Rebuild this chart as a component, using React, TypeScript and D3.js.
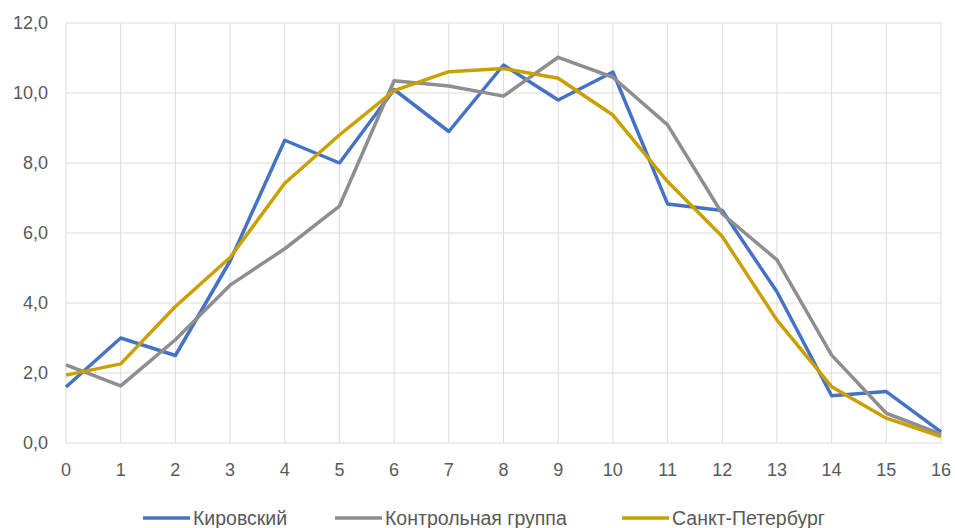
import React from "react";
import * as d3 from "d3";

const categories = [0, 1, 2, 3, 4, 5, 6, 7, 8, 9, 10, 11, 12, 13, 14, 15, 16];
const kirovsky = [1.6, 3.0, 2.5, 5.2, 8.65, 8.0, 10.1, 8.9, 10.8, 9.8, 10.6, 6.83, 6.64, 4.32, 1.35, 1.47, 0.32];
const control = [2.23, 1.63, 2.95, 4.51, 5.55, 6.77, 10.35, 10.2, 9.91, 11.02, 10.45, 9.09, 6.55, 5.23, 2.51, 0.85, 0.25];
const spb = [1.94, 2.26, 3.9, 5.3, 7.42, 8.8, 10.07, 10.61, 10.7, 10.42, 9.37, 7.47, 5.9, 3.51, 1.61, 0.71, 0.18];
const yTicks = [0, 2, 4, 6, 8, 10, 12];
const seriesNames = ["Кировский", "Контрольная группа", "Санкт-Петербург"];

const W = 955;
const H = 528;
const FONT = "'Liberation Sans', Arial, sans-serif";

export default function App() {
  const x = d3.scaleLinear().domain([0, 16]).range([66, 941]);
  const y = d3.scaleLinear().domain([0, 12]).range([443, 23]);
  const line = d3
    .line<number>()
    .x((_, i) => x(categories[i]))
    .y((d) => y(d));

  const series = [
    { name: seriesNames[0], data: kirovsky, color: "#4472C4" },
    { name: seriesNames[1], data: control, color: "#8E8E8E" },
    { name: seriesNames[2], data: spb, color: "#C9A000" },
  ];
  const legendX = [143, 335, 622];
  const fmt = (v: number) => v.toFixed(1).replace(".", ",");

  return (
    <svg
      width={W}
      height={H}
      style={{ position: "absolute", left: 0, top: 0, background: "#fff" }}
    >
      <g>
        {yTicks.map((t) => (
          <line key={"h" + t} x1={x(0)} x2={x(16)} y1={y(t)} y2={y(t)} stroke="#DCDCDC" strokeWidth={1} />
        ))}
        {categories.map((c) => (
          <line key={"v" + c} x1={x(c)} x2={x(c)} y1={y(0)} y2={y(12)} stroke="#DCDCDC" strokeWidth={1} />
        ))}
      </g>
      <g fontFamily={FONT} fontSize={18} fill="#595959">
        {yTicks.map((t) => (
          <text key={"yl" + t} x={48} y={y(t)} dy="0.35em" textAnchor="end">
            {fmt(t)}
          </text>
        ))}
        {categories.map((c) => (
          <text key={"xl" + c} x={x(c)} y={470} dy="0.35em" textAnchor="middle">
            {c}
          </text>
        ))}
      </g>
      <g fill="none" strokeWidth={3.5} strokeLinejoin="round">
        {series.map((s) => (
          <path key={s.name} d={line(s.data) || ""} stroke={s.color} />
        ))}
      </g>
      <g fontFamily={FONT} fontSize={19.5} fill="#595959">
        {series.map((s, i) => (
          <g key={"lg" + i}>
            <line x1={legendX[i]} x2={legendX[i] + 47} y1={518} y2={518} stroke={s.color} strokeWidth={3.5} />
            <text x={legendX[i] + 50} y={518} dy="0.35em">
              {s.name}
            </text>
          </g>
        ))}
      </g>
    </svg>
  );
}
